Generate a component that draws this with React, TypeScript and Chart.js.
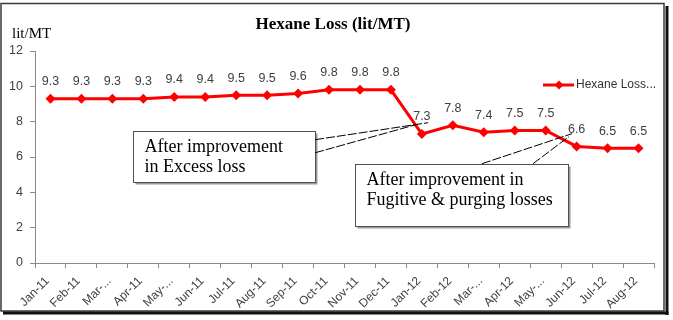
import React, { useEffect, useRef } from "react";
import { Chart, registerables } from "chart.js";

Chart.register(...registerables);

const categories = [
  "Jan-11", "Feb-11", "Mar-...", "Apr-11", "May-...", "Jun-11", "Jul-11", "Aug-11", "Sep-11", "Oct-11",
  "Nov-11", "Dec-11", "Jan-12", "Feb-12", "Mar-...", "Apr-12", "May-...", "Jun-12", "Jul-12", "Aug-12",
];
const hexaneLoss = [9.3, 9.3, 9.3, 9.3, 9.4, 9.4, 9.5, 9.5, 9.6, 9.8, 9.8, 9.8, 7.3, 7.8, 7.4, 7.5, 7.5, 6.6, 6.5, 6.5];
const seriesName = "Hexane Loss...";
const legendLabel = "Hexane Loss...";
const titleText = "Hexane Loss (lit/MT)";
const unitText = "lit/MT";
const yTicks = { min: 0, max: 12, step: 2 };

// callouts anchored in data units (x = category index, y = value)
const callout1 = {
  lines: ["After improvement", "in Excess loss"],
  box: { x0: 2.67, x1: 8.55, y0: 7.45, y1: 4.61 },
  wedge: [
    { from: [8.55, 6.98], to: [12.2, 7.94] },
    { from: [8.55, 6.24], to: [11.87, 7.86] },
  ],
};
const callout2 = {
  lines: ["After improvement in", "Fugitive & purging losses"],
  box: { x0: 9.84, x1: 16.72, y0: 5.62, y1: 2.1 },
  wedge: [
    { from: [13.94, 5.62], to: [16.85, 7.32] },
    { from: [15.59, 5.62], to: [16.75, 7.15] },
  ],
};
const callouts = [callout1, callout2];

const decorPlugin = {
  id: "decor",
  beforeDraw(chart: any) {
    const ctx = chart.ctx;
    ctx.save();
    ctx.fillStyle = "#ffffff";
    ctx.fillRect(0, 0, chart.width, chart.height);
    // frame
    ctx.strokeStyle = "#3a3a3a";
    ctx.lineWidth = 1.5;
    ctx.strokeRect(1, 3.5, 663, 307.5);
    ctx.fillStyle = "#111111";
    ctx.fillRect(665.5, 6, 3, 309);
    ctx.fillRect(3, 311.5, 665.5, 3);
    ctx.restore();
  },
  afterDraw(chart: any) {
    const ctx = chart.ctx;
    const xs = chart.scales.x;
    const ys = chart.scales.y;
    const px = (v: number) => xs.getPixelForValue(v);
    const py = (v: number) => ys.getPixelForValue(v);
    ctx.save();
    // title
    ctx.fillStyle = "#000000";
    ctx.font = "bold 17px 'Liberation Serif'";
    ctx.textAlign = "center";
    ctx.textBaseline = "middle";
    ctx.fillText(titleText, 333, 25);
    // unit
    ctx.font = "15px 'Liberation Serif'";
    ctx.textAlign = "left";
    ctx.fillText(unitText, 12, 34);

    // data labels
    const meta = chart.getDatasetMeta(0);
    ctx.font = "12.5px 'Liberation Sans'";
    ctx.fillStyle = "#404040";
    ctx.textAlign = "center";
    meta.data.forEach((pt: any, i: number) => {
      ctx.fillText(hexaneLoss[i].toFixed(1), pt.x, pt.y - 17);
    });

    // legend
    const ly = 85;
    ctx.strokeStyle = "#ff0000";
    ctx.lineWidth = 3;
    ctx.beginPath();
    ctx.moveTo(543, ly);
    ctx.lineTo(574, ly);
    ctx.stroke();
    ctx.fillStyle = "#ff0000";
    ctx.beginPath();
    ctx.moveTo(559, ly - 4.5);
    ctx.lineTo(563.5, ly);
    ctx.lineTo(559, ly + 4.5);
    ctx.lineTo(554.5, ly);
    ctx.closePath();
    ctx.fill();
    ctx.fillStyle = "#333333";
    ctx.font = "12px 'Liberation Sans'";
    ctx.textAlign = "left";
    ctx.fillText(legendLabel, 576, ly);

    // callouts
    callouts.forEach((c) => {
      const x0 = Math.round(px(c.box.x0)) + 0.5;
      const x1 = Math.round(px(c.box.x1)) + 0.5;
      const y0 = Math.round(py(c.box.y0)) + 0.5;
      const y1 = Math.round(py(c.box.y1)) + 0.5;
      ctx.fillStyle = "#9a9a9a";
      ctx.fillRect(x0 + 2, y0 + 2, x1 - x0, y1 - y0);
      ctx.fillStyle = "#ffffff";
      ctx.fillRect(x0, y0, x1 - x0, y1 - y0);
      ctx.strokeStyle = "#505050";
      ctx.lineWidth = 1;
      ctx.strokeRect(x0, y0, x1 - x0, y1 - y0);
      ctx.strokeStyle = "#000000";
      ctx.setLineDash([9, 2]);
      c.wedge.forEach((w) => {
        ctx.beginPath();
        ctx.moveTo(px(w.from[0]), py(w.from[1]));
        ctx.lineTo(px(w.to[0]), py(w.to[1]));
        ctx.stroke();
      });
      ctx.setLineDash([]);
      ctx.fillStyle = "#000000";
      ctx.font = "18px 'Liberation Serif'";
      ctx.textAlign = "left";
      ctx.textBaseline = "middle";
      c.lines.forEach((t, i) => {
        ctx.fillText(t, x0 + 11, y0 + 16 + i * 20);
      });
    });
    ctx.restore();
  },
};

export default function App() {
  const ref = useRef<HTMLCanvasElement | null>(null);
  useEffect(() => {
    if (!ref.current) return;
    const chart = new Chart(ref.current, {
      type: "line",
      data: {
        labels: categories,
        datasets: [
          {
            label: seriesName,
            data: hexaneLoss,
            borderColor: "#ff0000",
            backgroundColor: "#ff0000",
            borderWidth: 3,
            pointStyle: "rectRot",
            pointRadius: 5,
            pointBackgroundColor: "#ff0000",
            pointBorderColor: "#ff0000",
            pointBorderWidth: 0,
            tension: 0,
          },
        ],
      },
      options: {
        animation: false,
        responsive: false,
        maintainAspectRatio: false,
        layout: { padding: { left: 0, right: 19, top: 51, bottom: 0 } },
        plugins: {
          legend: { display: false },
          title: { display: false },
          tooltip: { enabled: false },
        },
        scales: {
          x: {
            type: "category",
            offset: true,
            grid: {
              offset: true,
              drawOnChartArea: false,
              drawTicks: true,
              tickLength: 5,
              color: "#8a8a8a",
            },
            border: { color: "#8a8a8a", width: 1 },
            ticks: {
              autoSkip: false,
              maxRotation: 45,
              minRotation: 45,
              padding: 6,
              labelOffset: -3,
              color: "#404040",
              font: { family: "'Liberation Sans'", size: 12 },
            },
            afterFit: (s: any) => {
              s.height = 57;
            },
          },
          y: {
            min: yTicks.min,
            max: yTicks.max,
            ticks: {
              stepSize: yTicks.step,
              padding: 7,
              color: "#404040",
              font: { family: "'Liberation Sans'", size: 12.5 },
            },
            grid: {
              drawOnChartArea: false,
              drawTicks: true,
              tickLength: 5,
              color: "#8a8a8a",
            },
            border: { color: "#8a8a8a", width: 1 },
            afterFit: (s: any) => {
              s.width = 35;
            },
          },
        },
      },
      plugins: [decorPlugin],
    });
    return () => chart.destroy();
  }, []);
  return (
    <div style={{ position: "fixed", left: 0, top: 0, width: 673, height: 320 }}>
      <canvas ref={ref} width={673} height={320} style={{ width: 673, height: 320, display: "block" }} />
    </div>
  );
}
